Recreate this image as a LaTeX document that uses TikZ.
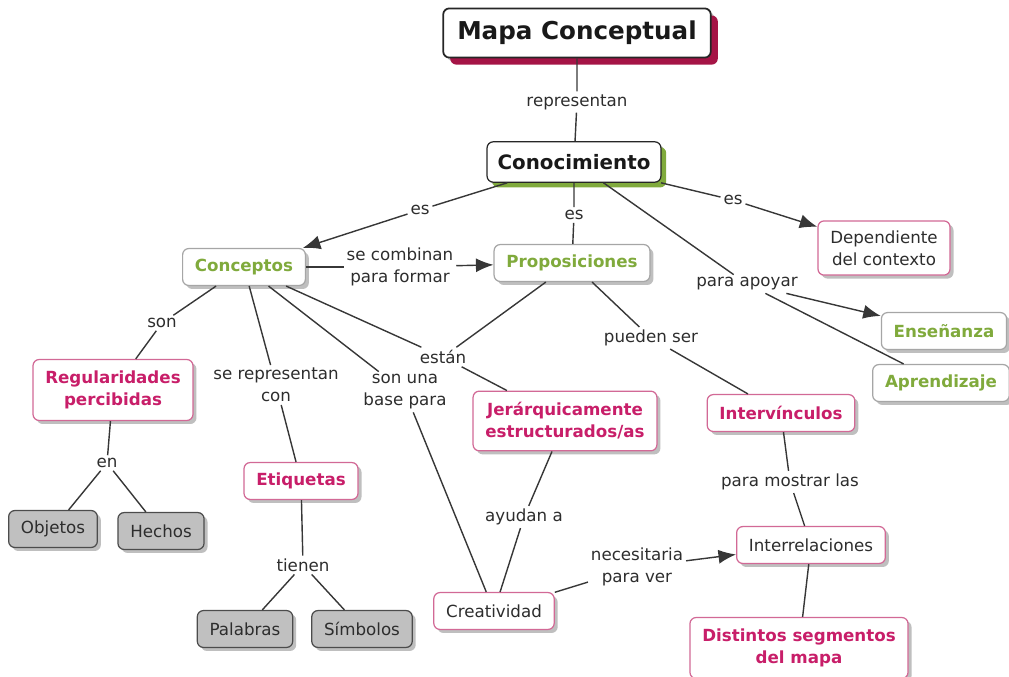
\documentclass[tikz,border=0pt]{standalone}
\usepackage{fontspec}
\setmainfont{DejaVu Sans}
\usetikzlibrary{arrows.meta,shadows}
\definecolor{mypink}{RGB}{200,30,105}
\definecolor{mypinkline}{RGB}{210,105,150}
\definecolor{mygreen}{RGB}{128,170,60}
\definecolor{mycrimson}{RGB}{165,20,70}
\definecolor{mygray}{RGB}{192,192,192}
\definecolor{myline}{RGB}{55,55,55}
\definecolor{mytext}{RGB}{45,45,45}

\begin{document}
\begin{tikzpicture}[x=0.02cm, y=-0.02cm, font=\fontsize{9.5}{12.5}\selectfont,
  box/.style={draw, rounded corners=3.5pt, fill=white, align=center, text=mytext,
              inner xsep=7pt, inner ysep=4pt, minimum height=21pt, line width=0.7pt,
              drop shadow={shadow xshift=2pt, shadow yshift=-2pt, fill=black, opacity=0.25}},
  pinkbox/.style={box, draw=mypinkline, text=mypink, font=\fontsize{9.5}{12.5}\selectfont\bfseries},
  plainbox/.style={box, draw=mypinkline},
  greenbox/.style={box, draw=black!35, text=mygreen, font=\fontsize{9.5}{12.5}\selectfont\bfseries},
  graybox/.style={box, draw=black!70, fill=mygray},
  twolines/.style={inner ysep=6.5pt},
  lbl/.style={align=center, inner sep=1.5pt, text=mytext},
  conn/.style={draw=myline, line width=0.8pt},
  arr/.style={conn, -{Latex[length=10pt,width=8pt]}}]
  \useasboundingbox (0,0) rectangle (1009,677);

  % top
  \node[box, draw=black!85, line width=1pt, inner xsep=8pt, minimum height=28pt,
        font=\fontsize{14}{16}\selectfont\bfseries, text=black!90,
        drop shadow={shadow xshift=4pt, shadow yshift=-4pt, fill=mycrimson, opacity=1}]
    (map) at (577,33) {Mapa Conceptual};
  \node[box, draw=black!85, inner xsep=6pt, minimum height=23pt,
        font=\fontsize{11.3}{13}\selectfont\bfseries, text=black!90,
        drop shadow={shadow xshift=3pt, shadow yshift=-3pt, fill=mygreen, opacity=1}]
    (con) at (574,162) {Conocimiento};

  % second row
  \node[greenbox] (conc) at (244,267) {Conceptos};
  \node[greenbox] (prop) at (572,263) {Proposiciones};
  \node[plainbox, twolines, inner ysep=5.5pt] (dep) at (884,248) {Dependiente\\del contexto};
  \node[greenbox] (ens) at (944,331) {Enseñanza};
  \node[greenbox] (apr) at (941,383) {Aprendizaje};

  % third row
  \node[pinkbox, twolines] (reg) at (113,390) {Regularidades\\percibidas};
  \node[pinkbox, twolines] (jer) at (565,421) {Jerárquicamente\\estructurados/as};
  \node[pinkbox] (interv) at (781,413) {Intervínculos};
  \node[pinkbox] (etiq) at (301,481) {Etiquetas};
  \node[plainbox] (interr) at (811,545) {Interrelaciones};
  \node[plainbox] (creat) at (494,611) {Creatividad};
  \node[pinkbox, twolines] (dist) at (799,648) {Distintos segmentos\\del mapa};

  % leaves
  \foreach \n/\t/\x/\y in {obj/Objetos/53/529, hech/Hechos/161/531,
                           pal/Palabras/245/629, simb/Símbolos/362/629}{
    \node[graybox] (\n) at (\x,\y) {\t};
  }

  % linking words
  \node[lbl] (lrep) at (577,102) {representan};
  \node[lbl] (les1) at (420,210) {es};
  \node[lbl] (les2) at (574,215) {es};
  \node[lbl] (les3) at (733,200) {es};
  \node[lbl] (lcomb) at (400,267) {se combinan\\para formar};
  \node[lbl] (lapoyar) at (747,284) {para apoyar};
  \node[lbl] (lson) at (162,323) {son};
  \node[lbl] (lrepcon) at (276,385) {se representan\\con};
  \node[lbl] (lbase) at (405,392) {son una\\base para};
  \node[lbl] (lestan) at (443,357) {están};
  \node[lbl] (lpueden) at (651,338) {pueden ser};
  \node[lbl] (len) at (107,463) {en};
  \node[lbl] (lmostrar) at (790,482) {para mostrar las};
  \node[lbl] (layudan) at (524,517) {ayudan a};
  \node[lbl] (lnecesit) at (637,567) {necesitaria\\para ver};
  \node[lbl] (ltienen) at (303,565) {tienen};

  % connectors
  \draw[conn] (map) -- (lrep) -- (con);
  \draw[conn] (con) -- (les1);
  \draw[arr] (les1) -- (conc);
  \draw[conn] (con) -- (les2) -- (prop);
  \draw[conn] (con) -- (les3);
  \draw[arr] (les3) -- (dep);
  \draw[conn] (con) -- (lapoyar);
  \draw[arr] (lapoyar) -- (ens);
  \draw[conn] (lapoyar) -- (apr);
  \draw[conn] (conc) -- (lcomb);
  \draw[arr] (lcomb) -- (prop);
  \draw[conn] (conc) -- (lson) -- (reg);
  \draw[conn] (conc) -- (lrepcon) -- (etiq);
  \draw[conn] (conc) -- (lbase) -- (creat);
  \draw[conn] (conc) -- (lestan) -- (jer);
  \draw[conn] (prop) -- (lestan);
  \draw[conn] (prop) -- (lpueden) -- (interv);
  \draw[conn] (reg) -- (len);
  \draw[conn] (len) -- (obj);
  \draw[conn] (len) -- (hech);
  \draw[conn] (etiq) -- (ltienen);
  \draw[conn] (ltienen) -- (pal);
  \draw[conn] (ltienen) -- (simb);
  \draw[conn] (jer) -- (layudan) -- (creat);
  \draw[conn] (creat) -- (lnecesit);
  \draw[arr] (lnecesit) -- (interr);
  \draw[conn] (interv) -- (lmostrar) -- (interr);
  \draw[conn] (interr) -- (dist);
\end{tikzpicture}
\end{document}
